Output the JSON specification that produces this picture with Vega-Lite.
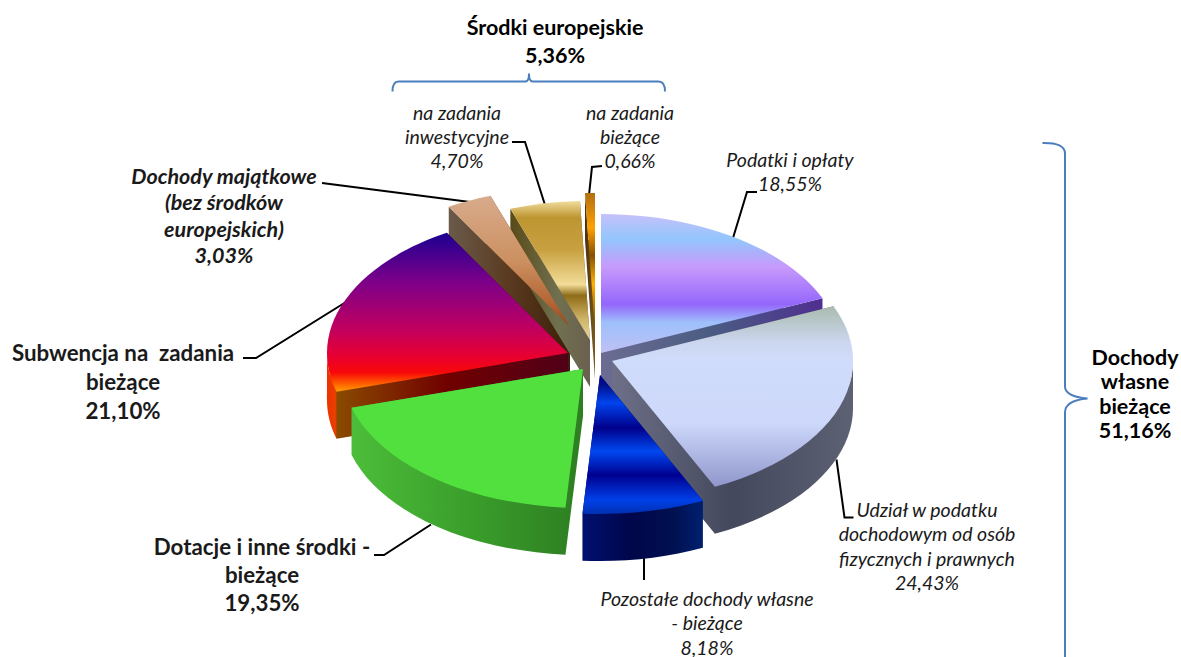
{
"$schema":"https://vega.github.io/schema/vega-lite/v6.json",
"width":1181,"height":657,"padding":0,"autosize":{"type":"none"},"background":"white",
"config":{"view":{"stroke":null}},
"params":[{"name":"rx","value":241},{"name":"ry","value":139},{"name":"d","value":47}],
"datasets":{
"slices":[
{"order":5,"name":"Dochody majątkowe (bez środków europejskich)","value":3.03,"label":"Dochody majątkowe\n(bez środków\neuropejskich)\n3,03%"},
{"order":6,"name":"Środki europejskie na zadania inwestycyjne","value":4.70,"label":"na zadania\ninwestycyjne\n4,70%"},
{"order":7,"name":"Środki europejskie na zadania bieżące","value":0.66,"label":"na zadania\nbieżące\n0,66%"},
{"order":0,"name":"Podatki i opłaty","value":18.55,"label":"Podatki i opłaty\n18,55%"},
{"order":4,"name":"Subwencja na zadania bieżące","value":21.10,"label":"Subwencja na\u00a0 zadania\nbieżące\n21,10%"},
{"order":1,"name":"Udział w podatku dochodowym od osób fizycznych i prawnych","value":24.43,"label":"Udział w podatku\ndochodowym od osób\nfizycznych i prawnych\n24,43%"},
{"order":3,"name":"Dotacje i inne środki - bieżące","value":19.35,"label":"Dotacje i inne środki -\nbieżące\n19,35%"},
{"order":2,"name":"Pozostałe dochody własne - bieżące","value":8.18,"label":"Pozostałe dochody własne\n- bieżące\n8,18%"}
],
"groups":[
{"order":0,"name":"Środki europejskie","value":5.36,"label":"Środki europejskie\n5,36%"},
{"order":1,"name":"Dochody własne bieżące","value":51.16,"label":"Dochody\nwłasne\nbieżące\n51,16%"}
]},
"layer":[
{"data":{"name":"groups"},
 "mark":{"type":"point","filled":false,"opacity":1,"size":4,"stroke":"#4a7ebf","strokeWidth":2,
 "shape":{"expr":"['M-198,-237Q-198,-247 -192,-247L-65,-247Q-61.5,-247 -61.5,-255Q-61.5,-247 -58,-247L68,-247Q74.5,-247 74.5,-237','M452,-185.5Q474.5,-186 474.5,-175L474.5,58Q474.5,68 497,70Q474.5,72 474.5,84L474.5,340'][datum.order]"}},
 "encoding":{}},
{"data":{"name":"slices"},
 "mark":{"type":"point","filled":false,"opacity":1,"size":4,"stroke":"#000000","strokeWidth":2,
 "shape":{"expr":"['M142.5,-90.5L156.5,-136.5L166.5,-136.5','M246,131L254,189L263,189','M53.5,228.5L53.5,251.5','M-159.5,196L-206.5,226.5L-216.5,226.5','M-244.5,-26.5L-334.5,29.5L-347.5,29.5','M-120.5,-126.5L-268.5,-145.5','M-45.5,-123.5L-65.5,-186.5L-78.5,-186.5','M-1.5,-133.5L1.5,-161.5L11.5,-162.5'][datum.order]"}},
 "encoding":{}},
{"data":{"name":"slices"},
 "transform":[{"stack":"value","groupby":[],"sort":[{"field":"order","order":"ascending"}],"as":["t0","t1"]}],
 "mark":{"type":"point","filled":true,"opacity":1,"size":4,
 "xOffset":{"expr":"[10.5,21.5,9.5,-7.5,-22.5,-20.5,-0.5,4.5][datum.order]"},
 "yOffset":{"expr":"[24.5,32.5,46.5,40.5,24.5,-1.5,11.5,3.5][datum.order]"},
 "shape":{"expr":"'M0,'+d+'L'+rx*sin(datum.t0*PI/50)+','+(-ry*cos(datum.t0*PI/50)+d)+'A'+rx+','+ry+' 0 0 1 '+rx*sin(datum.t1*PI/50)+','+(-ry*cos(datum.t1*PI/50)+d)+'Z'+(sin(datum.t0*PI/50)>0?'M0,0L'+rx*sin(datum.t0*PI/50)+','+(-ry*cos(datum.t0*PI/50))+'L'+rx*sin(datum.t0*PI/50)+','+(-ry*cos(datum.t0*PI/50)+d)+'L0,'+d+'Z':'M'+rx*sin(datum.t0*PI/50)+','+(-ry*cos(datum.t0*PI/50))+'L0,0L0,'+d+'L'+rx*sin(datum.t0*PI/50)+','+(-ry*cos(datum.t0*PI/50)+d)+'Z')+(sin(datum.t1*PI/50)>0?'M0,0L'+rx*sin(datum.t1*PI/50)+','+(-ry*cos(datum.t1*PI/50))+'L'+rx*sin(datum.t1*PI/50)+','+(-ry*cos(datum.t1*PI/50)+d)+'L0,'+d+'Z':'M'+rx*sin(datum.t1*PI/50)+','+(-ry*cos(datum.t1*PI/50))+'L0,0L0,'+d+'L'+rx*sin(datum.t1*PI/50)+','+(-ry*cos(datum.t1*PI/50)+d)+'Z')+(max(datum.t0,25)<min(datum.t1,75)?'M'+rx*sin(min(datum.t1,75)*PI/50)+','+(-ry*cos(min(datum.t1,75)*PI/50))+'A'+rx+','+ry+' 0 0 0 '+rx*sin(max(datum.t0,25)*PI/50)+','+(-ry*cos(max(datum.t0,25)*PI/50))+'L'+rx*sin(max(datum.t0,25)*PI/50)+','+(-ry*cos(max(datum.t0,25)*PI/50)+d)+'A'+rx+','+ry+' 0 0 1 '+rx*sin(min(datum.t1,75)*PI/50)+','+(-ry*cos(min(datum.t1,75)*PI/50)+d)+'Z':'')"},
 "fill":{"expr":"[{gradient:'linear',x1:0,y1:0,x2:1,y2:0,stops:[{offset:0,color:'#6c6c92'},{offset:0.5,color:'#4a5c82'},{offset:1,color:'#4f2f90'}]},{gradient:'linear',x1:0,y1:0,x2:1,y2:0,stops:[{offset:0,color:'#6d7088'},{offset:0.5,color:'#44485c'},{offset:1,color:'#5d6174'}]},{gradient:'linear',x1:0,y1:0,x2:1,y2:0,stops:[{offset:0,color:'#001070'},{offset:0.4,color:'#00064a'},{offset:0.75,color:'#001050'},{offset:1,color:'#002070'}]},{gradient:'linear',x1:0,y1:0,x2:1,y2:0,stops:[{offset:0,color:'#4cbd3a'},{offset:0.5,color:'#3a9f2b'},{offset:1,color:'#2e7d22'}]},{gradient:'linear',x1:0,y1:0,x2:1,y2:0,stops:[{offset:0,color:'#f03000'},{offset:0.035,color:'#e84000'},{offset:0.042,color:'#8a4a00'},{offset:0.5,color:'#700000'},{offset:1,color:'#500018'}]},{gradient:'linear',x1:0,y1:0,x2:1,y2:0,stops:[{offset:0,color:'#6a5a4a'},{offset:0.5,color:'#5a3a20'},{offset:1,color:'#3a2008'}]},{gradient:'linear',x1:0,y1:0,x2:1,y2:0,stops:[{offset:0,color:'#5a4a18'},{offset:0.6,color:'#707050'},{offset:1,color:'#6a6050'}]},{gradient:'linear',x1:0,y1:0,x2:1,y2:0,stops:[{offset:0,color:'#4a3010'},{offset:1,color:'#7a5a20'}]}][datum.order]"}},
 "encoding":{}},
{"data":{"name":"slices"},
 "transform":[{"stack":"value","groupby":[],"sort":[{"field":"order","order":"ascending"}],"as":["t0","t1"]}],
 "mark":{"type":"point","filled":true,"opacity":1,"size":4,
 "xOffset":{"expr":"[10.5,21.5,9.5,-7.5,-22.5,-20.5,-0.5,4.5][datum.order]"},
 "yOffset":{"expr":"[24.5,32.5,46.5,40.5,24.5,-1.5,11.5,3.5][datum.order]"},
 "shape":{"expr":"'M0,0L'+rx*sin(datum.t0*PI/50)+','+(-ry*cos(datum.t0*PI/50))+'A'+rx+','+ry+' 0 0 1 '+rx*sin(datum.t1*PI/50)+','+(-ry*cos(datum.t1*PI/50))+'Z'"},
 "fill":{"expr":"[{gradient:'linear',x1:0,y1:0,x2:0,y2:1,stops:[{offset:0,color:'#c6c0fa'},{offset:0.18,color:'#93c6fc'},{offset:0.38,color:'#c79afc'},{offset:0.65,color:'#9466fb'},{offset:0.78,color:'#9ec0fb'},{offset:1,color:'#bfc0f5'}]},{gradient:'linear',x1:0,y1:0,x2:0,y2:1,stops:[{offset:0,color:'#a9bcae'},{offset:0.2,color:'#ccd6ef'},{offset:0.3,color:'#d0dcfb'},{offset:0.65,color:'#cdd8fa'},{offset:0.85,color:'#aab2e0'},{offset:1,color:'#8f96cb'}]},{gradient:'linear',x1:0,y1:0,x2:0,y2:1,stops:[{offset:0,color:'#00008c'},{offset:0.07,color:'#000e8c'},{offset:0.2,color:'#0044ee'},{offset:0.38,color:'#00008b'},{offset:0.55,color:'#0048f0'},{offset:0.72,color:'#000090'},{offset:0.9,color:'#0040e8'},{offset:1,color:'#0030b0'}]},'#52e03f',{gradient:'linear',x1:0,y1:0,x2:0,y2:1,stops:[{offset:0,color:'#1c0090'},{offset:0.3,color:'#7a008a'},{offset:0.6,color:'#c00060'},{offset:0.78,color:'#e80030'},{offset:0.88,color:'#f80808'},{offset:0.95,color:'#ff6000'},{offset:1,color:'#ffa000'}]},{gradient:'linear',x1:0,y1:0,x2:0,y2:1,stops:[{offset:0,color:'#d8ab8c'},{offset:0.5,color:'#cc9060'},{offset:0.85,color:'#b06030'},{offset:1,color:'#8a4a20'}]},{gradient:'linear',x1:0,y1:0,x2:0,y2:1,stops:[{offset:0,color:'#f0dc9c'},{offset:0.12,color:'#bd9530'},{offset:0.35,color:'#c8a040'},{offset:0.6,color:'#f2dc98'},{offset:0.68,color:'#8f6c18'},{offset:0.85,color:'#cfb468'},{offset:1,color:'#e8d8a0'}]},{gradient:'linear',x1:0,y1:0,x2:0,y2:1,stops:[{offset:0,color:'#b07010'},{offset:0.25,color:'#ffa000'},{offset:0.45,color:'#8a5000'},{offset:0.65,color:'#ffb000'},{offset:1,color:'#704000'}]}][datum.order]"}},
 "encoding":{}},
{"data":{"name":"slices"},
 "mark":{"type":"text","font":"Lato","lineBreak":"\n","align":"center","baseline":"alphabetic","fill":"#1a1a1a",
 "fontSize":{"expr":"[19.5,19.5,19.5,22.3,22.3,21.5,19.5,19.5][datum.order]"},
 "fontWeight":{"expr":"datum.order>=3&&datum.order<=5?'bold':'normal'"},
 "fontStyle":{"expr":"datum.order==3||datum.order==4?'normal':'italic'"},
 "lineHeight":{"expr":"[24,24.5,24.5,28,29,26.5,24,24][datum.order]"},
 "xOffset":{"expr":"[199.5,336.5,116.5,-328.5,-467.5,-366.5,-133.5,39.5][datum.order]"},
 "yOffset":{"expr":"[-162,188,277,226,32,-145,-209,-209][datum.order]"}},
 "encoding":{"text":{"field":"label","type":"nominal"}}},
{"data":{"name":"groups"},
 "mark":{"type":"text","font":"Lato","lineBreak":"\n","align":"center","baseline":"alphabetic","fill":"#000000","fontSize":21.5,"fontWeight":"bold",
 "lineHeight":{"expr":"[28,24.5][datum.order]"},
 "xOffset":{"expr":"[-35.5,544.5][datum.order]"},
 "yOffset":{"expr":"[-294,36][datum.order]"}},
 "encoding":{"text":{"field":"label","type":"nominal"}}}
]
}
